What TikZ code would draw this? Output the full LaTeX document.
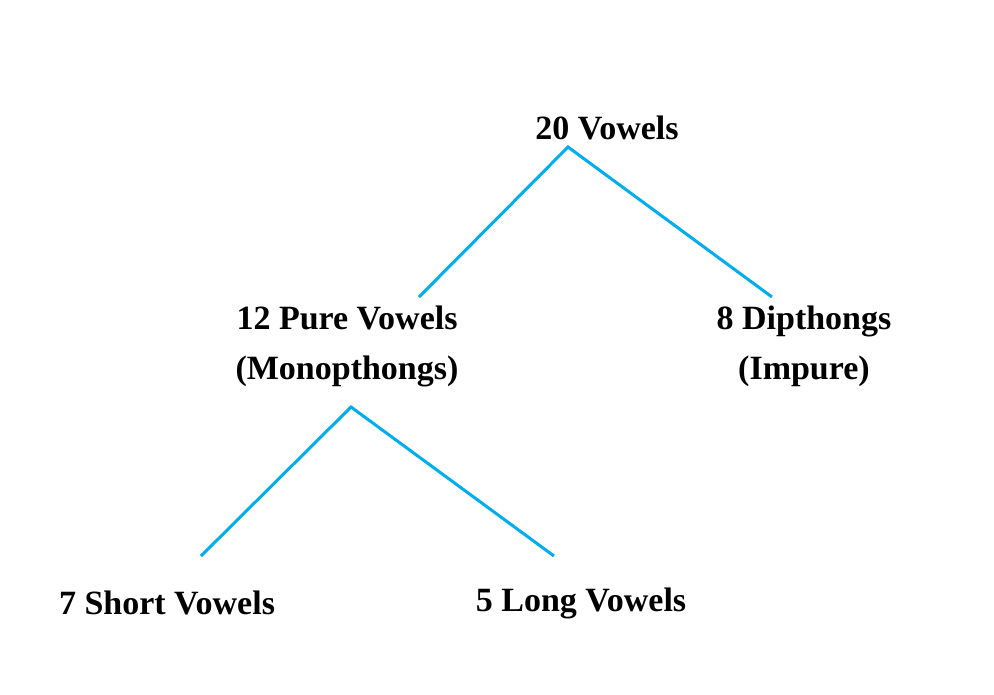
\documentclass[tikz,border=0pt]{standalone}
\usepackage{fontspec}
\setmainfont{Liberation Serif}
\definecolor{lineblue}{RGB}{0,174,239}
\begin{document}
\begin{tikzpicture}[x=1pt,y=-1pt,
  lbl/.style={font=\fontsize{34}{50}\selectfont\bfseries, align=center, inner sep=0pt},
  edge/.style={draw=lineblue, line width=3pt}]
\useasboundingbox (0,0) rectangle (994,694);
\node[lbl] (root) at (607,128) {20 Vowels};
\node[lbl] (pure) at (347,346) {12 Pure Vowels\\(Monopthongs)};
\node[lbl] (dip) at (804,346) {8 Dipthongs\\(Impure)};
\node[lbl] (short) at (167,603) {7 Short Vowels};
\node[lbl] (long) at (581,603) {5 Long Vowels};
\coordinate (r) at (568,147);
\coordinate (p) at (351,407);
\coordinate (pe) at (419,297);
\coordinate (de) at (772,297);
\coordinate (se) at (201,556);
\coordinate (le) at (554,556);
\draw[edge] (pe) -- (r) -- (de);
\draw[edge] (se) -- (p) -- (le);
\end{tikzpicture}
\end{document}
